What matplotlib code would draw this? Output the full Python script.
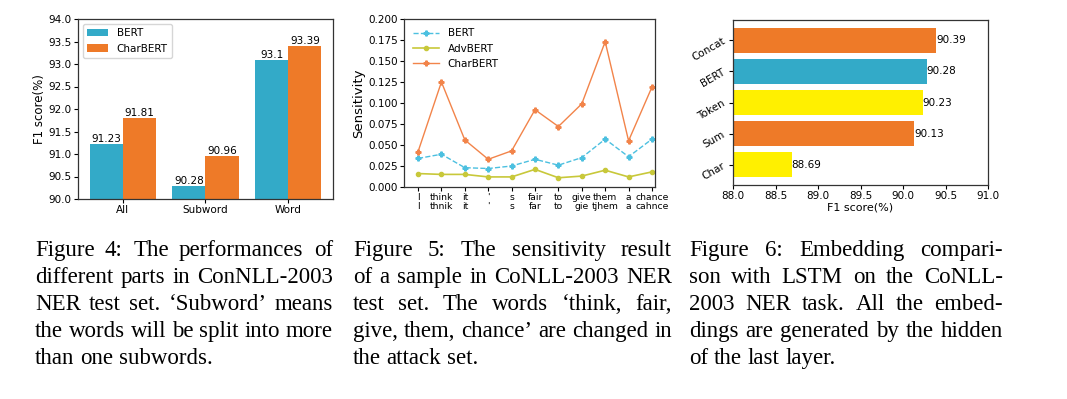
import numpy as np
import matplotlib
matplotlib.use("Agg")
import matplotlib.pyplot as plt

# ---- data -------------------------------------------------------------
parts = ["All", "Subword", "Word"]
bert_parts = [91.23, 90.28, 93.1]
charbert_parts = [91.81, 90.96, 93.39]

words = ["I\nI", "think\nthnik", "it\nit", "'\n'", "s\ns", "fair\nfar",
         "to\nto", "give\ngie", "them\ntjhem", "a\na", "chance\ncahnce"]
sens_bert = [0.034, 0.039, 0.023, 0.022, 0.025, 0.033, 0.026, 0.035, 0.057, 0.036, 0.057]
sens_advbert = [0.016, 0.015, 0.015, 0.012, 0.012, 0.021, 0.011, 0.013, 0.020, 0.012, 0.018]
sens_charbert = [0.042, 0.125, 0.056, 0.033, 0.043, 0.092, 0.072, 0.099, 0.173, 0.055, 0.119]

embeds = ["Char", "Sum", "Token", "BERT", "Concat"]
embed_f1 = [88.69, 90.13, 90.23, 90.28, 90.39]

captions = [
    ["Figure 4:  The performances of",
     "different parts in ConNLL-2003",
     "NER test set. \u2018Subword\u2019 means",
     "the words will be split into more",
     "than one subwords."],
    ["Figure 5:  The sensitivity result",
     "of a sample in CoNLL-2003 NER",
     "test set.  The words \u2018think, fair,",
     "give, them, chance\u2019 are changed in",
     "the attack set."],
    ["Figure 6:  Embedding compari-",
     "son with LSTM on the CoNLL-",
     "2003 NER task.  All the embed-",
     "dings are generated by the hidden",
     "of the last layer."],
]

TEAL = "#33aac8"
ORANGE = "#ee7a28"
YELLOW = "#fff000"
FS = 7.5

W, H = 1067, 399
fig = plt.figure(figsize=(W / 100, H / 100), dpi=100)


def px_axes(l, t, r, b):
    return fig.add_axes([l / W, 1 - b / H, (r - l) / W, (b - t) / H])


# ---- figure 4: grouped bars ----------------------------------------------
ax1 = px_axes(78, 19, 333, 199)
x = np.arange(len(parts))
bw = 0.4
b1 = ax1.bar(x - bw / 2, bert_parts, bw, color=TEAL, label="BERT")
b2 = ax1.bar(x + bw / 2, charbert_parts, bw, color=ORANGE, label="CharBERT")
for bars, vals in ((b1, bert_parts), (b2, charbert_parts)):
    for rect, v in zip(bars, vals):
        ax1.text(rect.get_x() + rect.get_width() / 2, v, str(v),
                 ha="center", va="bottom", fontsize=FS)
ax1.set_ylim(90, 94)
ax1.set_yticks(np.arange(90, 94.01, 0.5))
ax1.set_xticks(x)
ax1.set_xticklabels(parts)
ax1.set_ylabel("F1 score(%)", fontsize=8.5, labelpad=2)
ax1.tick_params(labelsize=FS, length=3, pad=1.5)
ax1.legend(loc="upper left", fontsize=FS, handlelength=2)

# ---- figure 5: sensitivity lines -----------------------------------------
ax2 = px_axes(404, 19, 655, 187)
xi = np.arange(len(words))
ax2.plot(xi, sens_bert, "--", color="#4cc0e0", marker="P", ms=3.5, lw=1, label="BERT")
ax2.plot(xi, sens_advbert, "-", color="#c8c83a", marker="o", ms=3, lw=1.2, label="AdvBERT")
ax2.plot(xi, sens_charbert, "-", color="#f2844a", marker="P", ms=3.5, lw=1, label="CharBERT")
ax2.set_ylim(0, 0.2)
ax2.set_yticks(np.arange(0, 0.2001, 0.025))
ax2.set_xlim(-0.6, 10.13)
ax2.set_xticks(xi)
ax2.set_xticklabels(words, linespacing=1.0)
ax2.set_ylabel("Sensitivity", fontsize=9.5, labelpad=2)
ax2.tick_params(labelsize=FS, length=3, pad=1.5)
ax2.tick_params(axis="x", labelsize=6.7)
ax2.legend(loc="upper left", fontsize=FS, frameon=False, handlelength=2.5)

# ---- figure 6: embedding comparison --------------------------------------
ax3 = px_axes(733, 20, 988, 185)
colors3 = [YELLOW, ORANGE, YELLOW, TEAL, ORANGE]
bars3 = ax3.barh(embeds, embed_f1, color=colors3)
for rect, v in zip(bars3, embed_f1):
    ax3.text(v, rect.get_y() + rect.get_height() / 2, f"{v:.2f}",
             ha="left", va="center", fontsize=FS)
ax3.set_xlim(88, 91)
ax3.set_xticks(np.arange(88, 91.01, 0.5))
ax3.set_xlabel("F1 score(%)", fontsize=8, labelpad=1)
ax3.tick_params(labelsize=FS, length=3, pad=1.5)
for lab in ax3.get_yticklabels():
    lab.set_rotation(30)
    lab.set_fontsize(7.5)

for ax in (ax1, ax2, ax3):
    for s in ax.spines.values():
        s.set_color("#333333")
        s.set_linewidth(0.9)


# ---- captions (justified, serif) -----------------------------------------
def justified(lines, x0, x1, y0, dy, size=16.5):
    r = fig.canvas.get_renderer()
    for i, line in enumerate(lines):
        y = y0 + i * dy
        parts_ = line.split()
        ts = [fig.text(0, 1 - y / H, p, fontsize=size, family="Liberation Serif",
                       va="baseline", ha="left") for p in parts_]
        ws = [t.get_window_extent(r).width for t in ts]
        if i == len(lines) - 1 or len(ts) == 1:
            gap = size * 0.25 * 100 / 72
        else:
            gap = (x1 - x0 - sum(ws)) / (len(ts) - 1)
        xx = x0
        for t, w in zip(ts, ws):
            t.set_x(xx / W)
            xx += w + gap


cols = [(35, 333), (353, 672), (689, 1003)]
for (c0, c1), lines in zip(cols, captions):
    justified(lines, c0, c1, 256, 27)

fig.savefig("out.png", dpi=100)
